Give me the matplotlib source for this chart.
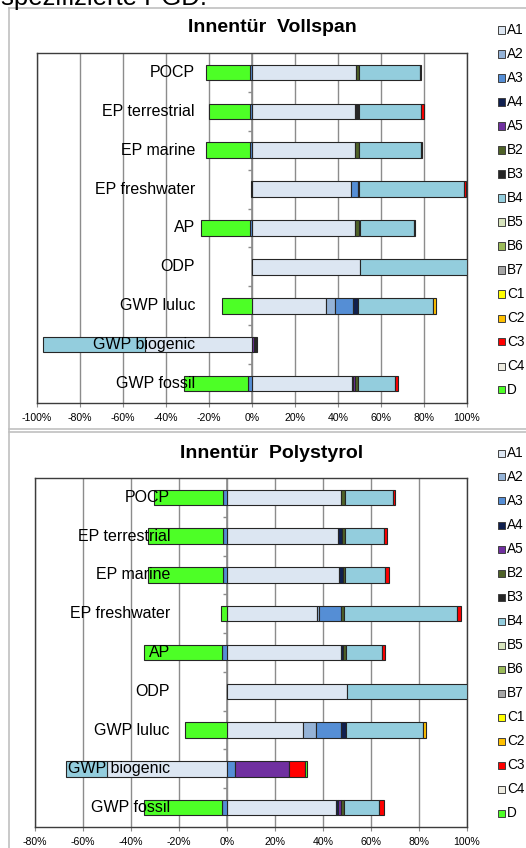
import numpy as np
import matplotlib.pyplot as plt
import matplotlib.transforms as mtransforms
from matplotlib.lines import Line2D
from matplotlib.patches import Rectangle

plt.rcParams['font.family'] = ['Liberation Sans', 'DejaVu Sans']

# Categories, top to bottom
categories = ['POCP', 'EP terrestrial', 'EP marine', 'EP freshwater', 'AP',
              'ODP', 'GWP luluc', 'GWP biogenic', 'GWP fossil']

# Life cycle modules (legend order) and their colours
modules = ['A1', 'A2', 'A3', 'A4', 'A5', 'B2', 'B3', 'B4', 'B5', 'B6', 'B7',
           'C1', 'C2', 'C3', 'C4', 'D']
module_colors = ['#DCE6F2', '#95B3D7', '#558ED5', '#10204F', '#7030A0', '#4F6228',
                 '#262626', '#93CDDD', '#D7E4BD', '#9BBB59', '#A6A6A6', '#FFFF00',
                 '#FFC000', '#FF0000', '#EEECE1', '#4DFF26']

# Innentür Vollspan, shares in % (same order as categories)
vollspan_A1 = [48.4, 47.8, 47.8, 45.9, 48.1, 50.0, 34.5, -49.9, 46.3]
vollspan_A2 = [0, 0, 0, 0, 0, 0, 4.3, 0, 0]
vollspan_A3 = [-1.0, -0.8, -0.8, 3.4, -0.8, 0, 8.4, 0, -1.9]
vollspan_A4 = [0, 0, 0, 0.4, 0, 0, 2.0, 0, 0.9]
vollspan_A5 = [0, 0, 0, 0, 0, 0, 0, 1.0, 0.9]
vollspan_B2 = [1.5, 0, 1.9, 0, 1.9, 0, 0, 0, 1.1]
vollspan_B3 = [0, 2.0, 0, 0, 0, 0, 0, 1.3, 0]
vollspan_B4 = [28.1, 28.9, 28.8, 49.0, 25.4, 50.0, 35.2, -47.4, 17.2]
vollspan_C2 = [0, 0, 0, 0, 0, 0, 1.1, 0, 0]
vollspan_C3 = [0.4, 1.4, 0.5, 1.0, 0.5, 0, 0, 0, 1.6]
vollspan_D = [-20.6, -19.3, -20.4, -0.3, -23.0, 0, -13.9, 0, -29.9]

# Innentür Polystyrol, shares in %
polystyrol_A1 = [47.5, 46.4, 46.5, 37.6, 47.4, 49.9, 31.5, -50.0, 45.4]
polystyrol_A2 = [0, 0, 0, 0.8, 0, 0, 5.6, 0, 0]
polystyrol_A3 = [-1.7, -1.7, -1.7, 9.0, -2.1, 0, 10.4, 3.4, -2.1]
polystyrol_A4 = [0, 1.5, 1.7, 0, 1.1, 0, 1.9, 0, 1.0]
polystyrol_A5 = [0, 0, 0, 0, 0, 0, 0, 22.5, 1.1]
polystyrol_B2 = [1.7, 1.25, 1.0, 1.4, 1.1, 0, 0, 0, 1.4]
polystyrol_B4 = [19.9, 16.4, 16.8, 47.2, 14.9, 50.1, 32.4, -16.9, 14.6]
polystyrol_C2 = [0, 0, 0, 0, 0, 0, 1.1, 0, 0]
polystyrol_C3 = [1.0, 1.25, 1.4, 1.4, 1.4, 0, 0, 6.8, 1.9]
polystyrol_D = [-28.6, -31.4, -31.2, -2.5, -32.3, 0, -17.4, 0.7, -32.3]

vollspan = {'A1': vollspan_A1, 'A2': vollspan_A2, 'A3': vollspan_A3, 'A4': vollspan_A4,
            'A5': vollspan_A5, 'B2': vollspan_B2, 'B3': vollspan_B3, 'B4': vollspan_B4,
            'C2': vollspan_C2, 'C3': vollspan_C3, 'D': vollspan_D}
polystyrol = {'A1': polystyrol_A1, 'A2': polystyrol_A2, 'A3': polystyrol_A3,
              'A4': polystyrol_A4, 'A5': polystyrol_A5, 'B2': polystyrol_B2,
              'B4': polystyrol_B4, 'C2': polystyrol_C2, 'C3': polystyrol_C3,
              'D': polystyrol_D}

W, H = 526, 848
fig = plt.figure(figsize=(W / 100, H / 100), dpi=100)


def fx(px):
    return px / W


def fy(py):
    return 1 - py / H


grid_col = '#8c8c8c'


def draw_panel(ax, data, xmin, title, title_y, legend_top):
    n = len(categories)
    y = np.arange(n)[::-1].astype(float)
    pos = np.zeros(n)
    neg = np.zeros(n)
    # stacked bars: positives to the right, negatives to the left of 0
    for name, col in zip(modules, module_colors):
        if name not in data:
            continue
        v = np.array(data[name], dtype=float)
        left = np.where(v >= 0, pos, neg)
        idx = v != 0
        ax.barh(y[idx], v[idx], left=left[idx], height=0.4, color=col,
                edgecolor='#262626', linewidth=0.8, zorder=3)
        pos += np.where(v > 0, v, 0)
        neg += np.where(v < 0, v, 0)

    ax.set_xlim(xmin, 100)
    ax.set_ylim(-0.5, n - 0.5)
    ticks = np.arange(xmin, 101, 20)
    ax.set_xticks(ticks)
    ax.set_xticklabels([f'{t}%' for t in ticks])
    ax.set_yticks([])
    ax.xaxis.grid(True, color=grid_col, linewidth=1.0)
    ax.set_axisbelow(True)
    ax.tick_params(axis='x', direction='out', length=3, color=grid_col,
                   labelsize=7.6, pad=4)
    for sp in ax.spines.values():
        sp.set_color('#3c3c3c')
        sp.set_linewidth(1.0)

    # category axis at 0 with small ticks between categories
    ax.axvline(0, color=grid_col, linewidth=1.2, zorder=2)
    ax.plot(np.zeros(n - 1), np.arange(n - 1) + 0.5, ls='', marker=0,
            markersize=3, markeredgecolor=grid_col, markeredgewidth=1, zorder=2)

    lab_tr = mtransforms.offset_copy(ax.transData, fig=fig, x=-57, y=0, units='dots')
    for yi, name in zip(y, categories):
        ax.text(0, yi, name, transform=lab_tr, ha='right', va='center',
                fontsize=11.5, zorder=6)

    fig.text(fx(272), fy(title_y), title, ha='center', va='center',
             fontsize=14, fontweight='bold')

    # legend (cut off at the right edge like the screenshot)
    for i, (name, col) in enumerate(zip(modules, module_colors)):
        ly = legend_top + i * 24
        fig.add_artist(Rectangle((fx(498), fy(ly + 3.5)), 7 / W, 7 / H,
                                 facecolor=col, edgecolor='#404040', linewidth=0.7,
                                 transform=fig.transFigure))
        fig.text(fx(507), fy(ly), name, va='center', fontsize=9.8)


ax1 = fig.add_axes([fx(37), fy(403), 430 / W, 350 / H])
draw_panel(ax1, vollspan, -100, 'Innentür  Vollspan', 28, 30)

ax2 = fig.add_axes([fx(35), fy(827), 432 / W, 349 / H])
draw_panel(ax2, polystyrol, -80, 'Innentür  Polystyrol', 453, 453)

# chart area borders
border = '#c0c0c0'
fig.add_artist(Line2D([fx(9), 1], [fy(8), fy(8)], color=border, lw=1.2))
fig.add_artist(Line2D([fx(9), fx(9)], [fy(8), 0], color=border, lw=1.2))
fig.add_artist(Line2D([fx(9), 1], [fy(429), fy(429)], color=border, lw=1.2))
fig.add_artist(Line2D([fx(9), 1], [fy(432), fy(432)], color=border, lw=1.2))

# heading cut off at the top of the screenshot
fig.text(fx(1), fy(4.5), 'spezifizierte PGD.', va='baseline', fontsize=18.5)

fig.savefig('out.png', dpi=100)
